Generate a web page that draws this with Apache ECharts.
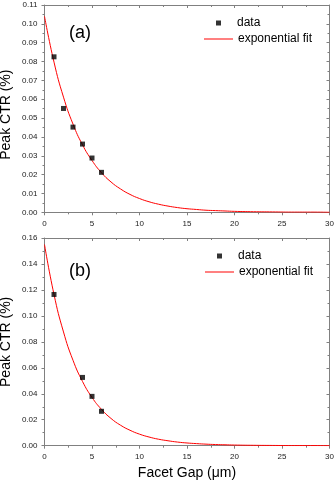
<!DOCTYPE html>
<html>
<head>
<meta charset="utf-8">
<script src="https://cdn.jsdelivr.net/npm/echarts@6/dist/echarts.min.js"></script>
<style>html,body{margin:0;padding:0;background:#fff}#c{width:335px;height:480px}</style>
</head>
<body>
<div id="c"></div>
<script>
// ---- data ----
const gapA = [1, 2, 3, 4, 5, 6];
const ctrA = [0.0825, 0.0551, 0.0452, 0.0362, 0.0288, 0.0212];
const gapB = [1, 4, 5, 6];
const ctrB = [0.1165, 0.0526, 0.0380, 0.0265];
const fitX = [0,1,2,3,4,5,6,7,8,9,10,11,12,13,14,15,16,17,18,19,20,22,24,26,28,30];
const fitA = [0.1040,0.0797,0.0611,0.0468,0.0358,0.0275,0.0210,0.0161,0.0124,0.0095,0.0073,0.0056,0.0043,0.0033,0.0025,0.0019,0.0015,0.0011,0.0009,0.0007,0.0005,0.0003,0.0002,0.0001,0.0001,0.0000];
const fitB = [0.1550,0.1165,0.0876,0.0658,0.0495,0.0372,0.0280,0.0210,0.0158,0.0119,0.0089,0.0067,0.0050,0.0038,0.0028,0.0021,0.0016,0.0012,0.0009,0.0007,0.0005,0.0003,0.0002,0.0001,0.0001,0.0000];
const xTicks = {min: 0, max: 30, interval: 5};
const yTicksA = {min: 0, max: 0.11, interval: 0.01};
const yTicksB = {min: 0, max: 0.16, interval: 0.02};
const panelLabels = ['(a)', '(b)'];
const seriesNames = ['data', 'exponential fit'];
const xTitle = 'Facet Gap (μm)';
const yTitle = 'Peak CTR (%)';

const pairs = (xs, ys) => xs.map((x, i) => [x, ys[i]]);
const FONT = 'Liberation Sans, Arial, sans-serif';
const AX = '#808080';
const LBL = '#222';

function xAxisDef(grid, bottom, withName) {
  return Object.assign({
    type: 'value', gridIndex: grid, position: bottom ? 'bottom' : 'top',
    axisLine: {show: true, onZero: false, lineStyle: {color: AX, width: 1}},
    axisTick: {show: true, inside: !bottom, length: 3, lineStyle: {color: AX}},
    minorTick: {show: true, splitNumber: 2, length: 2, lineStyle: {color: AX}},
    axisLabel: {show: bottom, fontSize: 8, margin: 7, color: LBL, fontFamily: FONT},
    splitLine: {show: false}, minorSplitLine: {show: false},
    name: withName ? xTitle : '', nameLocation: 'middle', nameGap: 20,
    nameTextStyle: {fontSize: 14, color: '#000', fontFamily: FONT}
  }, xTicks);
}
function yAxisDef(grid, left, ticks, padR) {
  return Object.assign({
    type: 'value', gridIndex: grid, position: left ? 'left' : 'right',
    axisLine: {show: true, onZero: false, lineStyle: {color: AX, width: 1}},
    axisTick: {show: true, inside: !left, length: 3, lineStyle: {color: AX}},
    minorTick: {show: true, splitNumber: 2, length: 2, lineStyle: {color: AX}},
    axisLabel: {show: left, fontSize: 8, margin: 7, color: LBL, fontFamily: FONT,
      formatter: v => v.toFixed(2)},
    splitLine: {show: false}, minorSplitLine: {show: false},
    name: left ? yTitle : '', nameLocation: 'middle', nameGap: 31, nameMoveOverlap: false,
    nameTextStyle: {fontSize: 14, color: '#000', fontFamily: FONT, padding: [0, padR, 0, 0]}
  }, ticks);
}
function legendPair(top, leftLine) {
  const ts = {fontSize: 12, color: '#000', fontFamily: FONT};
  return [
    {left: leftLine + 12, top: top, itemWidth: 5, itemHeight: 5, padding: 0,
     textStyle: Object.assign({padding: [0, 0, 0, 11]}, ts),
     data: [{name: seriesNames[0], icon: 'rect'}]},
    {left: leftLine, top: top + 16, itemWidth: 29, itemHeight: 1, padding: 0,
     textStyle: ts,
     data: [{name: seriesNames[1], icon: 'rect'}]}
  ];
}

const chart = echarts.init(document.getElementById('c'), null, {renderer: 'canvas'});
chart.setOption({
  animation: false,
  textStyle: {fontFamily: FONT},
  grid: [
    {left: 44.5, top: 5, width: 285, height: 207.3, containLabel: false, outerBoundsMode: 'none'},
    {left: 44.5, top: 238, width: 285, height: 207.7, containLabel: false, outerBoundsMode: 'none'}
  ],
  title: [
    {text: panelLabels[0], left: 69, top: 24, padding: 0,
     textStyle: {fontSize: 18, fontWeight: 'normal', color: '#000', fontFamily: FONT}},
    {text: panelLabels[1], left: 69, top: 262, padding: 0,
     textStyle: {fontSize: 18, fontWeight: 'normal', color: '#000', fontFamily: FONT}}
  ],
  legend: legendPair(17, 204).concat(legendPair(250, 205)),
  xAxis: [xAxisDef(0, true, false), xAxisDef(0, false, false), xAxisDef(1, true, true), xAxisDef(1, false, false)],
  yAxis: [yAxisDef(0, true, yTicksA, 12), yAxisDef(0, false, yTicksA, 0), yAxisDef(1, true, yTicksB, 0), yAxisDef(1, false, yTicksB, 0)],
  series: [
    {name: seriesNames[1], type: 'line', xAxisIndex: 0, yAxisIndex: 0, data: pairs(fitX, fitA),
     symbol: 'none', smooth: true, lineStyle: {color: '#ff0000', width: 1}, itemStyle: {color: '#ff0000'}, z: 2},
    {name: seriesNames[0], type: 'scatter', xAxisIndex: 0, yAxisIndex: 0, data: pairs(gapA, ctrA),
     symbol: 'rect', symbolSize: 5, itemStyle: {color: '#000'}, z: 3},
    {name: seriesNames[1], type: 'line', xAxisIndex: 2, yAxisIndex: 2, data: pairs(fitX, fitB),
     symbol: 'none', smooth: true, lineStyle: {color: '#ff0000', width: 1}, itemStyle: {color: '#ff0000'}, z: 2},
    {name: seriesNames[0], type: 'scatter', xAxisIndex: 2, yAxisIndex: 2, data: pairs(gapB, ctrB),
     symbol: 'rect', symbolSize: 5, itemStyle: {color: '#000'}, z: 3}
  ]
});
</script>
</body>
</html>
